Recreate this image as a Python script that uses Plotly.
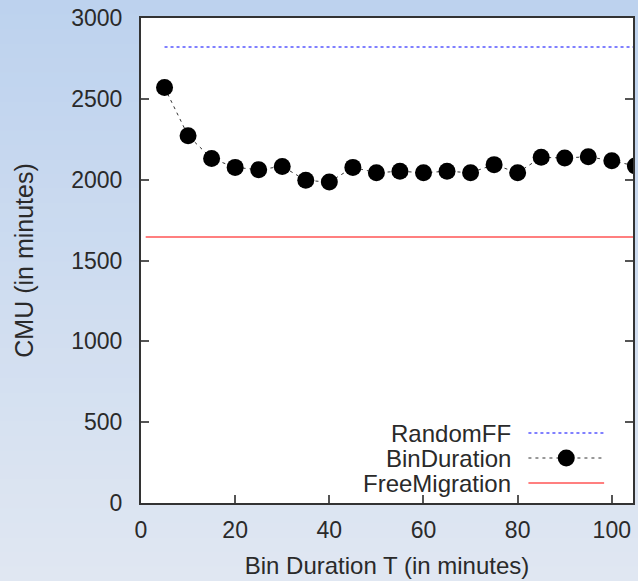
import plotly.graph_objects as go

# ---- data ----
bin_x = [5, 10, 15, 20, 25, 30, 35, 40, 45, 50, 55, 60, 65, 70, 75, 80, 85, 90, 95, 100, 105]
bin_y = [2570, 2272, 2131, 2076, 2062, 2082, 1996, 1985, 2076, 2043, 2052, 2043, 2052, 2043, 2093, 2043, 2138, 2134, 2142, 2117, 2085]
random_x = [5, 105]
random_y = [2820, 2820]
free_x = [1, 105]
free_y = [1645, 1645]
x_ticks = [0, 20, 40, 60, 80, 100]
y_ticks = [0, 500, 1000, 1500, 2000, 2500, 3000]
legend_names = ["RandomFF", "BinDuration", "FreeMigration"]

W, H = 638, 581
L, R, T, B = 141, 3, 18, 78
PW, PH = W - L - R, H - T - B
FONT = "Liberation Sans, Arial, Helvetica, sans-serif"
TXT = "#2a2a2a"

def px2paper_x(px):
    return (px - L) / PW

def px2paper_y(py):
    return (H - B - py) / PH

fig = go.Figure()
fig.add_trace(go.Scatter(x=random_x, y=random_y, mode="lines",
                         line=dict(color="#8080ff", width=2, dash="dot"),
                         showlegend=False, name=legend_names[0]))
fig.add_trace(go.Scatter(x=free_x, y=free_y, mode="lines",
                         line=dict(color="#ff7f7f", width=2),
                         showlegend=False, name=legend_names[2]))
fig.add_trace(go.Scatter(x=bin_x, y=bin_y, mode="lines+markers",
                         line=dict(color="#333333", width=1, dash="3px,4px"),
                         marker=dict(color="black", size=17),
                         showlegend=False, name=legend_names[1]))

shapes = []
# background gradient stripes
n = 40
top = (189, 210, 238)
bot = (224, 231, 242)
for i in range(n):
    f = i / (n - 1)
    c = tuple(round(top[k] + (bot[k] - top[k]) * f) for k in range(3))
    y0 = i * H / n
    y1 = (i + 1) * H / n + 1
    shapes.append(dict(type="rect", xref="paper", yref="paper",
                       x0=px2paper_x(-5), x1=px2paper_x(W + 5),
                       y0=px2paper_y(y1), y1=px2paper_y(y0),
                       fillcolor="rgb(%d,%d,%d)" % c, line=dict(width=0), layer="below"))
shapes.append(dict(type="rect", xref="x domain", yref="y domain", x0=0, x1=1, y0=0, y1=1,
                   fillcolor="white", line=dict(width=0), layer="below"))

# manual legend (text left of sample)
leg_y = [433, 458, 483]
lx0, lx1 = 530, 606
shapes.append(dict(type="line", xref="paper", yref="paper",
                   x0=px2paper_x(lx0), x1=px2paper_x(lx1),
                   y0=px2paper_y(leg_y[0]), y1=px2paper_y(leg_y[0]),
                   line=dict(color="#8080ff", width=2, dash="dot")))
shapes.append(dict(type="line", xref="paper", yref="paper",
                   x0=px2paper_x(lx0), x1=px2paper_x(lx1),
                   y0=px2paper_y(leg_y[1]), y1=px2paper_y(leg_y[1]),
                   line=dict(color="#333333", width=1, dash="3px,4px")))
shapes.append(dict(type="circle", xref="paper", yref="paper",
                   xsizemode="pixel", ysizemode="pixel",
                   xanchor=px2paper_x(568), yanchor=px2paper_y(leg_y[1]),
                   x0=-8.5, x1=8.5, y0=-8.5, y1=8.5,
                   fillcolor="black", line=dict(width=0)))
shapes.append(dict(type="line", xref="paper", yref="paper",
                   x0=px2paper_x(lx0), x1=px2paper_x(lx1),
                   y0=px2paper_y(leg_y[2]), y1=px2paper_y(leg_y[2]),
                   line=dict(color="#ff7f7f", width=2)))

annotations = []
for name, yy in zip(legend_names, leg_y):
    annotations.append(dict(text=name, xref="paper", yref="paper",
                            x=px2paper_x(515), y=px2paper_y(yy),
                            xanchor="right", yanchor="middle", showarrow=False,
                            font=dict(family=FONT, size=24, color=TXT)))

fig.update_layout(
    width=W, height=H,
    margin=dict(l=L, r=R, t=T, b=B, pad=0),
    paper_bgcolor="rgb(208,221,240)",
    plot_bgcolor="white",
    shapes=shapes,
    annotations=annotations,
    font=dict(family=FONT, size=23, color=TXT),
    xaxis=dict(range=[0, 104.5], tickvals=x_ticks, ticks="inside", ticklen=8,
               tickwidth=1.5, tickcolor="#555555", showgrid=False, zeroline=False,
               showline=True, linecolor="#333333", linewidth=2, mirror=True,
               ticklabelstandoff=5,
               title=dict(text="Bin Duration T (in minutes)", standoff=16,
                          font=dict(size=24))),
    yaxis=dict(range=[0, 3000], tickvals=y_ticks, ticks="inside", ticklen=8,
               tickwidth=1.5, tickcolor="#555555", showgrid=False, zeroline=False,
               showline=True, linecolor="#333333", linewidth=2, mirror="ticks",
               ticklabelstandoff=12,
               title=dict(text="CMU (in minutes)", standoff=30,
                          font=dict(size=25))),
)

fig.write_html("out.html")
